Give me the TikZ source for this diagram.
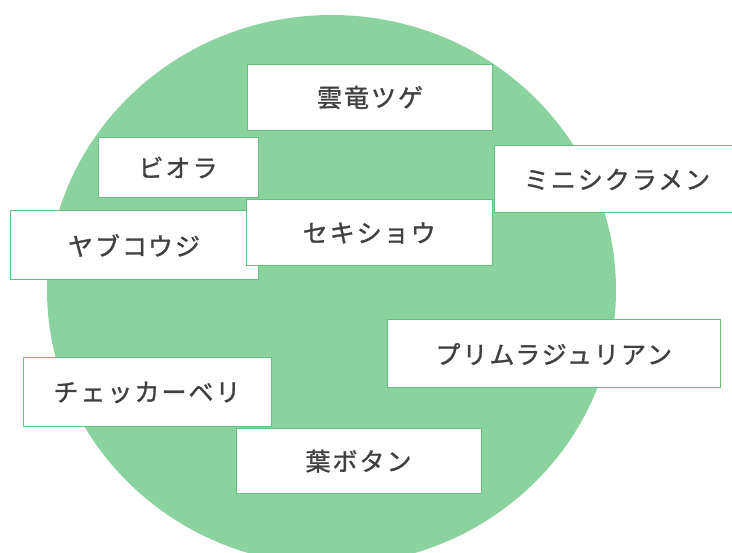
\documentclass[tikz,border=0pt]{standalone}
\usepackage{fontspec}
\newfontfamily\jp[LetterSpace=8,FakeBold=1.2]{Noto Sans CJK JP}
\definecolor{bg}{RGB}{138,210,158}
\definecolor{edge}{RGB}{100,194,126}
\definecolor{txt}{RGB}{64,64,64}
\begin{document}
\begin{tikzpicture}[x=1pt,y=-1pt,
  namebox/.style={draw=edge, line width=1pt, fill=white, inner sep=0pt,
    font=\jp\fontsize{25}{25}\selectfont, text=txt}]
\useasboundingbox (0,0) rectangle (732,553);
\begin{scope}
  \clip (0,0) rectangle (732,553);
  \fill[bg] (331.5,290) ellipse [x radius=284.5pt, y radius=275pt];
  \node[namebox, minimum width=246pt, minimum height=67pt] (mini) at (617,179.5) {ミニシクラメン};
\end{scope}
\node[namebox, minimum width=245pt, minimum height=66pt] (unryu) at (370,97.5) {雲竜ツゲ};
\node[namebox, minimum width=160pt, minimum height=60pt] (viola) at (178,167.5) {ビオラ};
\node[namebox, minimum width=248pt, minimum height=69pt] (yabu) at (134,245.5) {ヤブコウジ};
\node[namebox, minimum width=246.5pt, minimum height=66pt] (seki) at (369.25,233) {セキショウ};
\node[namebox, minimum width=332.5pt, minimum height=68pt] (primula) at (553.75,354) {プリムラジュリアン};
\node[namebox, minimum width=248pt, minimum height=69pt] (checker) at (147,392.5) {チェッカーベリ};
\node[namebox, minimum width=245pt, minimum height=65.5pt] (habotan) at (358.5,461.25) {葉ボタン};
\end{tikzpicture}
\end{document}
